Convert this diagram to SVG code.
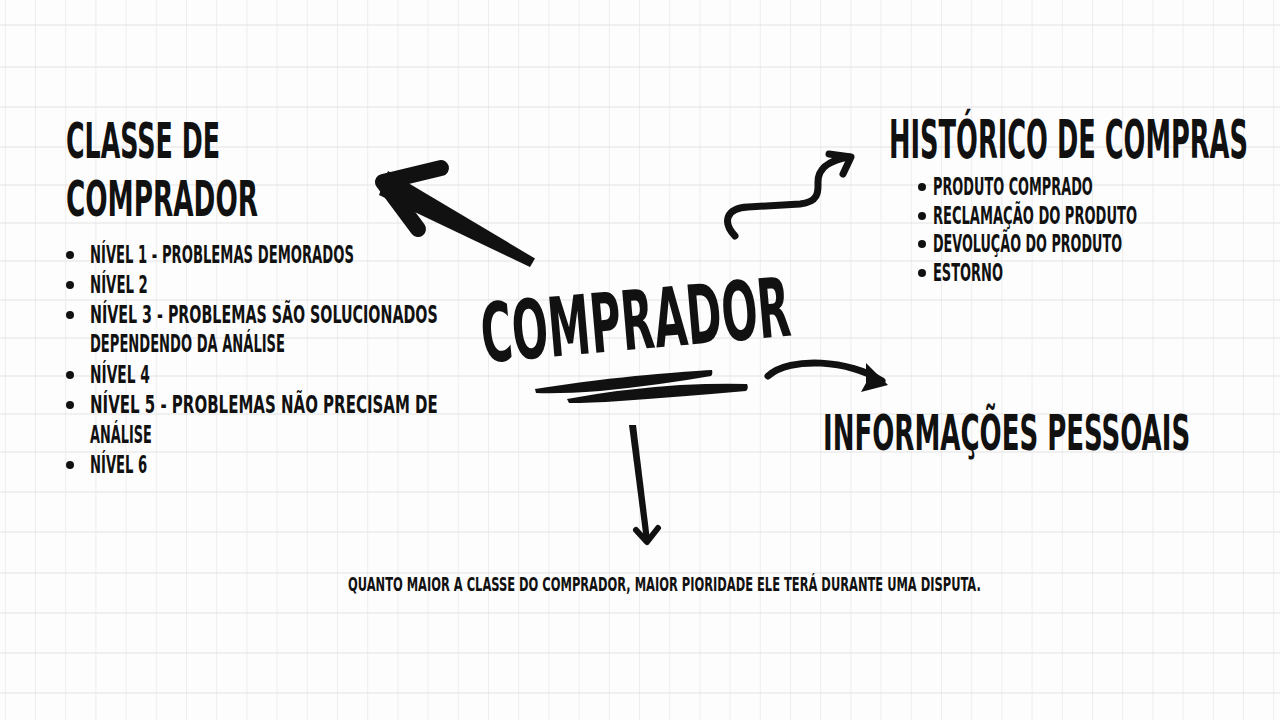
<svg xmlns="http://www.w3.org/2000/svg" width="1280" height="720" viewBox="0 0 1280 720">
<defs>
<pattern id="vgrid" x="35" y="0" width="30.2" height="720" patternUnits="userSpaceOnUse"><line x1="0" y1="0" x2="0" y2="720" stroke="#e3e3e3" stroke-width="1.2"/></pattern>
<style>
.t{font-family:"Liberation Sans Narrow","DejaVu Sans Condensed","Liberation Sans",sans-serif;font-weight:bold;fill:#111}
.h{font-size:50px}
.li{font-size:25px}
.lr{font-size:24px}
.note{font-size:20px}
.ink{fill:#111}
.brush{fill:none;stroke:#111;stroke-linecap:round;stroke-linejoin:round}
.hl{stroke:#e3e3e3;stroke-width:1.2}
</style>
</defs>
<rect width="1280" height="720" fill="#fdfdfd"/>
<rect width="1280" height="720" fill="url(#vgrid)"/>
<g id="hgrid">
<line class="hl" x1="0" y1="25" x2="1280" y2="25"/>
<line class="hl" x1="0" y1="67" x2="1280" y2="67"/>
<line class="hl" x1="0" y1="107" x2="1280" y2="107"/>
<line class="hl" x1="0" y1="147" x2="1280" y2="147"/>
<line class="hl" x1="0" y1="185" x2="1280" y2="185"/>
<line class="hl" x1="0" y1="223" x2="1280" y2="223"/>
<line class="hl" x1="0" y1="261" x2="1280" y2="261"/>
<line class="hl" x1="0" y1="300" x2="1280" y2="300"/>
<line class="hl" x1="0" y1="338" x2="1280" y2="338"/>
<line class="hl" x1="0" y1="376" x2="1280" y2="376"/>
<line class="hl" x1="0" y1="414" x2="1280" y2="414"/>
<line class="hl" x1="0" y1="452" x2="1280" y2="452"/>
<line class="hl" x1="0" y1="492" x2="1280" y2="492"/>
<line class="hl" x1="0" y1="532" x2="1280" y2="532"/>
<line class="hl" x1="0" y1="573" x2="1280" y2="573"/>
<line class="hl" x1="0" y1="613" x2="1280" y2="613"/>
<line class="hl" x1="0" y1="653" x2="1280" y2="653"/>
<line class="hl" x1="0" y1="693" x2="1280" y2="693"/>
</g>

<g id="connectors">
<!-- big brush arrow to Classe de comprador -->
<path class="ink" d="M388,171 L535,258.5 L530,267 L379,195 Z"/>
<polyline class="brush" stroke-width="16" points="441,168 383,182 418,229"/>
<!-- squiggle arrow to Historico -->
<path class="brush" stroke-width="7" d="M735,236 C722,222 726,208 748,207 L800,204 C820,202 818,190 818,182 C818,166 832,160 849,157"/>
<polyline class="brush" stroke-width="7" points="829,154 851,157 843,174"/>
<!-- arrow to Informacoes -->
<path class="brush" stroke-width="7" d="M768,376 C790,356 850,360 882,381"/>
<path class="ink" d="M866,363 L888,385 L861,392 L866,383 Z"/>
<!-- down arrow to note -->
<path class="ink" d="M629,425 L636,425 L650,540 L644,541 Z"/>
<polyline class="brush" stroke-width="6" points="636,530 647,542 658,528"/>
</g>

<g id="node-comprador">
<text class="t" x="0" y="0" font-size="82" text-anchor="middle" textLength="500" lengthAdjust="spacingAndGlyphs" transform="rotate(-5 638 349) translate(638 349) scale(0.62 1)">COMPRADOR</text>
<path class="ink" d="M535,389 Q600,379 647,375 Q690,371 712,370 Q713,374 711,376 Q660,385 600,391 Q560,394 536,393 Z"/>
<path class="ink" d="M567,399 Q620,389 680,385 Q720,383 747,384 Q749,388 746,391 Q690,396 620,401 Q590,403 569,403 Z"/>
</g>

<g id="node-classe">
<text class="t h" x="0" y="0" textLength="256.7" lengthAdjust="spacingAndGlyphs" transform="translate(66 158) scale(0.6 1)">CLASSE DE</text>
<text class="t h" x="0" y="0" textLength="295.4" lengthAdjust="spacingAndGlyphs" transform="translate(66 216) scale(0.65 1)">COMPRADOR</text>
<g class="ink">
<circle cx="70" cy="255" r="4"/>
<circle cx="70" cy="285" r="4"/>
<circle cx="70" cy="315" r="4"/>
<circle cx="70" cy="375" r="4"/>
<circle cx="70" cy="405" r="4"/>
<circle cx="70" cy="465" r="4"/>
</g>
<text class="t li" x="0" y="0" textLength="406" lengthAdjust="spacingAndGlyphs" transform="translate(90 263) scale(0.65 1)">NÍVEL 1 - PROBLEMAS DEMORADOS</text>
<text class="t li" x="0" y="0" textLength="89" lengthAdjust="spacingAndGlyphs" transform="translate(90 293) scale(0.65 1)">NÍVEL 2</text>
<text class="t li" x="0" y="0" textLength="535" lengthAdjust="spacingAndGlyphs" transform="translate(90 323) scale(0.65 1)">NÍVEL 3 - PROBLEMAS SÃO SOLUCIONADOS</text>
<text class="t li" x="0" y="0" textLength="300" lengthAdjust="spacingAndGlyphs" transform="translate(90 352) scale(0.65 1)">DEPENDENDO DA ANÁLISE</text>
<text class="t li" x="0" y="0" textLength="92" lengthAdjust="spacingAndGlyphs" transform="translate(90 383) scale(0.65 1)">NÍVEL 4</text>
<text class="t li" x="0" y="0" textLength="535" lengthAdjust="spacingAndGlyphs" transform="translate(90 413) scale(0.65 1)">NÍVEL 5 - PROBLEMAS NÃO PRECISAM DE</text>
<text class="t li" x="0" y="0" textLength="95" lengthAdjust="spacingAndGlyphs" transform="translate(90 443) scale(0.65 1)">ANÁLISE</text>
<text class="t li" x="0" y="0" textLength="88" lengthAdjust="spacingAndGlyphs" transform="translate(90 473) scale(0.65 1)">NÍVEL 6</text>
</g>

<g id="node-historico">
<text class="t" x="0" y="0" font-size="53" textLength="652.7" lengthAdjust="spacingAndGlyphs" transform="translate(889 158) scale(0.55 1)">HISTÓRICO DE COMPRAS</text>
<g class="ink">
<circle cx="922" cy="187" r="4"/>
<circle cx="922" cy="216" r="4"/>
<circle cx="922" cy="244" r="4"/>
<circle cx="922" cy="273" r="4"/>
</g>
<text class="t lr" x="0" y="0" textLength="235" lengthAdjust="spacingAndGlyphs" transform="translate(933 195) scale(0.68 1)">PRODUTO COMPRADO</text>
<text class="t lr" x="0" y="0" textLength="300" lengthAdjust="spacingAndGlyphs" transform="translate(933 224) scale(0.68 1)">RECLAMAÇÃO DO PRODUTO</text>
<text class="t lr" x="0" y="0" textLength="278" lengthAdjust="spacingAndGlyphs" transform="translate(933 252) scale(0.68 1)">DEVOLUÇÃO DO PRODUTO</text>
<text class="t lr" x="0" y="0" textLength="103" lengthAdjust="spacingAndGlyphs" transform="translate(933 281) scale(0.68 1)">ESTORNO</text>
</g>

<g id="node-informacoes">
<text class="t" x="0" y="0" font-size="50" textLength="633" lengthAdjust="spacingAndGlyphs" transform="translate(823 450) scale(0.58 1)">INFORMAÇÕES PESSOAIS</text>
</g>

<g id="node-nota">
<text class="t note" x="0" y="0" textLength="904" lengthAdjust="spacingAndGlyphs" transform="translate(348 591) scale(0.7 1)">QUANTO MAIOR A CLASSE DO COMPRADOR, MAIOR PIORIDADE ELE TERÁ DURANTE UMA DISPUTA.</text>
</g>
</svg>
